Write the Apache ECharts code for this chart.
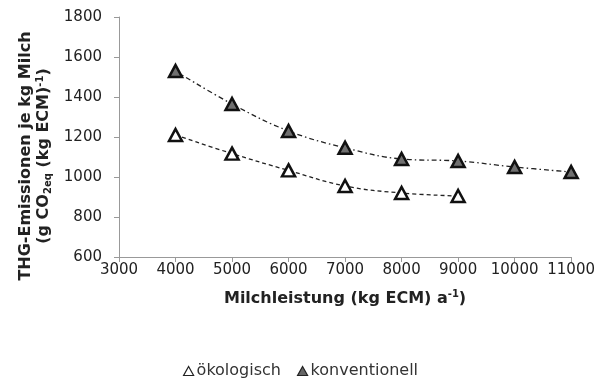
<!DOCTYPE html>
<html>
<head>
<meta charset="utf-8">
<script src="https://cdn.jsdelivr.net/npm/echarts@6/dist/echarts.min.js"></script>
<style>
  html, body { margin: 0; padding: 0; background: #fff; }
  #main { width: 598px; height: 382px; }
</style>
</head>
<body>
<div id="main"></div>
<script>
// Milchleistung (kg ECM) a-1
var leistung = [4000, 5000, 6000, 7000, 8000, 9000, 10000, 11000];
// THG-Emissionen je kg Milch
var oekologisch = [1210, 1117, 1033, 955, 920, 905];
var konventionell = [1530, 1365, 1230, 1146, 1090, 1080, 1050, 1025];

function pairs(xs, ys) {
    var out = [];
    for (var i = 0; i < ys.length; i++) out.push([xs[i], ys[i]]);
    return out;
}

var chart = echarts.init(document.getElementById('main'));

var fontMain = 'DejaVu Sans';

option = {
    backgroundColor: '#fff',
    animation: false,
    grid: {
        left: 119,
        right: 23,
        top: 17,
        bottom: 125
    },
    legend: {
        top: 358,
        left: 178,
        itemWidth: 10,
        itemHeight: 9,
        itemGap: 16,
        textStyle: {
            fontFamily: fontMain,
            fontSize: 16,
            color: '#333',
            padding: [0, 0, 0, -2]
        },
        data: [
            {name: 'ökologisch', icon: 'triangle', itemStyle: {color: '#fff', borderColor: '#222', borderWidth: 1.2}},
            {name: 'konventionell', icon: 'triangle', itemStyle: {color: '#666', borderColor: '#222', borderWidth: 1.2}}
        ]
    },
    xAxis: {
        type: 'value',
        min: 3000,
        max: 11000,
        interval: 1000,
        name: '{b|Milchleistung (kg ECM) a}{sup|-1}{b|)}',
        nameLocation: 'middle',
        nameGap: 32,
        nameTextStyle: {
            rich: {
                b: {fontFamily: fontMain, fontWeight: 'bold', fontSize: 16, color: '#222', lineHeight: 20},
                sup: {fontFamily: fontMain, fontWeight: 'bold', fontSize: 10, color: '#222', lineHeight: 10, verticalAlign: 'top'}
            }
        },
        axisLine: {show: true, lineStyle: {color: '#999', width: 1}},
        axisTick: {show: true, length: 5, lineStyle: {color: '#999'}},
        axisLabel: {fontFamily: fontMain, fontSize: 15, color: '#222', margin: 6,
            formatter: function (v) { return String(v); }},
        splitLine: {show: false}
    },
    yAxis: {
        type: 'value',
        min: 600,
        max: 1800,
        interval: 200,
        name: '{b|THG-Emissionen je kg Milch}\n{b|(g CO}{sub|2eq}{b| (kg ECM)}{sup|-1}{b|)}',
        nameLocation: 'middle',
        nameGap: 57,
        nameTextStyle: {
            align: 'center',
            padding: [0, 38, 0, 0],
            rich: {
                b: {fontFamily: fontMain, fontWeight: 'bold', fontSize: 16, color: '#222', lineHeight: 18},
                sub: {fontFamily: fontMain, fontWeight: 'bold', fontSize: 10, color: '#222', lineHeight: 10, verticalAlign: 'bottom'},
                sup: {fontFamily: fontMain, fontWeight: 'bold', fontSize: 10, color: '#222', lineHeight: 10, verticalAlign: 'top'}
            }
        },
        axisLine: {show: true, lineStyle: {color: '#999', width: 1}},
        axisTick: {show: true, length: 5, lineStyle: {color: '#999'}},
        axisLabel: {fontFamily: fontMain, fontSize: 15, color: '#222', margin: 17,
            formatter: function (v) { return String(v); }},
        splitLine: {show: false}
    },
    series: [
        {
            name: 'ökologisch',
            type: 'line',
            smooth: 0.4,
            symbol: 'triangle',
            symbolSize: [13, 12],
            itemStyle: {color: '#fff', borderColor: '#111', borderWidth: 2.5},
            lineStyle: {color: '#222', width: 1.3, type: [4, 3]},
            z: 3,
            data: pairs(leistung, oekologisch)
        },
        {
            name: 'konventionell',
            type: 'line',
            smooth: 0.4,
            symbol: 'triangle',
            symbolSize: [13, 12],
            itemStyle: {color: '#707070', borderColor: '#111', borderWidth: 2.5},
            lineStyle: {color: '#222', width: 1.3, type: [5, 3, 1.5, 3]},
            z: 3,
            data: pairs(leistung, konventionell)
        }
    ]
};

chart.setOption(option);
</script>
</body>
</html>
